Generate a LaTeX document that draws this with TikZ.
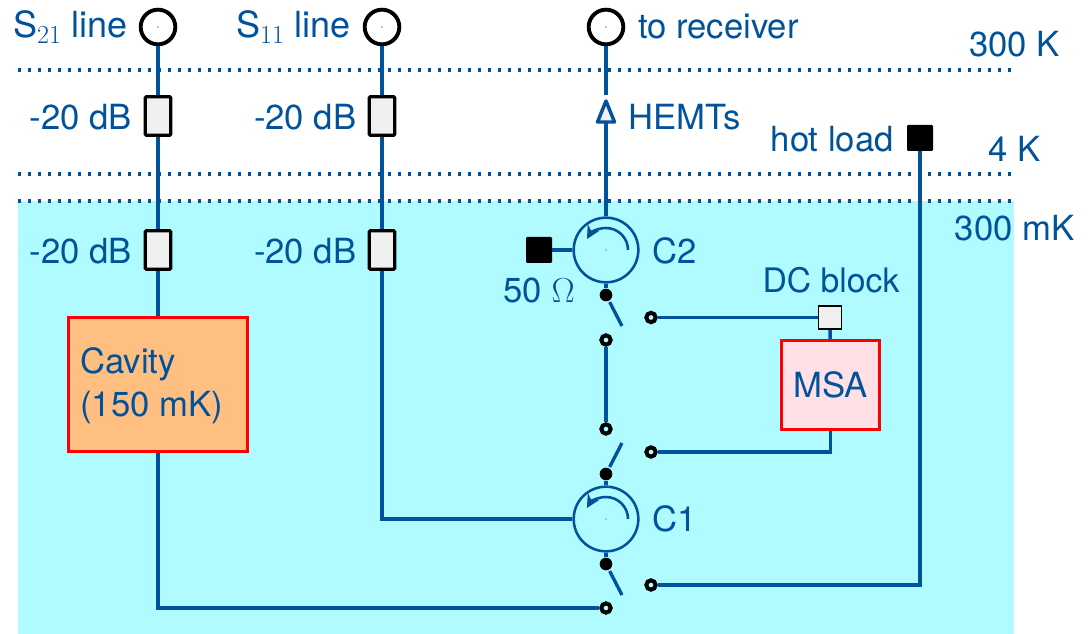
\documentclass[tikz,border=0pt]{standalone}
\usepackage{fix-cm}
\usepackage[no-math]{fontspec}
\usetikzlibrary{arrows.meta}
\setmainfont{TeX Gyre Heros}
\DeclareMathSizes{27}{27}{19.5}{14}
\definecolor{wireblue}{HTML}{00529B}
\definecolor{coldcyan}{HTML}{AFFBFF}
\definecolor{attgray}{HTML}{F0F0F0}
\definecolor{cavorange}{HTML}{FFBF80}
\definecolor{msapink}{HTML}{FFE0E6}
\begin{document}
\begin{tikzpicture}[x=0.75pt, y=-0.75pt,
  every node/.style={font=\fontsize{26}{32}\selectfont, text=wireblue, inner sep=0pt},
  portlabel/.style={font=\fontsize{27}{32}\selectfont, anchor=east},
  wire/.style={draw=wireblue, line width=2.5pt},
  stage/.style={draw=wireblue, line width=2.6pt, dash pattern=on 2.6pt off 4.9pt},
  port/.style={circle, draw=black, line width=2.9pt, minimum size=26pt},
  atten/.style={rectangle, draw=black, fill=attgray, line width=2.4pt, rounded corners=0.8pt, minimum width=19pt, minimum height=29pt},
  load/.style={rectangle, fill=black, rounded corners=0.8pt, minimum size=19.5pt},
  circu/.style={circle, draw=wireblue, line width=1.9pt, minimum size=48.5pt},
  turn/.style={wireblue, line width=1.9pt, -{Stealth[length=10pt, width=10pt]}},
  pivot/.style={circle, fill=black, minimum size=9.5pt},
  contact/.style={circle, draw=black, fill=coldcyan, line width=3pt, minimum size=7pt},
  box/.style={rectangle, draw=red, line width=2.3pt}]
\useasboundingbox (0,0) rectangle (1088,634);
\fill [coldcyan] (18,201) rectangle (1014,634);
\draw [stage] (18,70) -- (1012,70);
\draw [stage] (18,174) -- (1012,174);
\draw [stage] (18,201) -- (1012,201);
% nodes
\node (S21) at (158,27) [port] {};
\node (S11) at (382,27) [port] {};
\node (Rx) at (606,27) [port] {};
\node (A1) at (158,116) [atten] {};
\node (A2) at (158,250) [atten] {};
\node (A3) at (382,116) [atten] {};
\node (A4) at (382,250) [atten] {};
\node (Cav) at (158,384.5) [box, fill=cavorange, minimum width=134pt, minimum height=101pt] {};
\node (MSA) at (830.5,385) [box, fill=msapink, minimum width=73pt, minimum height=67pt] {MSA};
\node (DC) at (830,317.5) [rectangle, draw=black, fill=attgray, line width=1.2pt, minimum size=17.5pt] {};
\node (Hot) at (920,138) [load] {};
\node (Term) at (539,250) [load] {};
\node (C2) at (606,250) [circu] {};
\node (C1) at (606,519) [circu] {};
\node (P2) at (606,295) [pivot] {};
\node (P1a) at (606,474) [pivot] {};
\node (P1b) at (606,564) [pivot] {};
\node (T2a) at (651,317.5) [contact] {};
\node (T2b) at (606,340) [contact] {};
\node (T1a) at (606,429) [contact] {};
\node (T1b) at (651,452) [contact] {};
\node (T3a) at (651,585) [contact] {};
\node (T3b) at (606,608) [contact] {};
\coordinate (Arm2) at (622,326);
\coordinate (Arm1a) at (622,443);
\coordinate (Arm1b) at (622,595);
\coordinate (HotC) at (920,585);
\coordinate (MSAc) at (830.5,452);
\coordinate (S11c) at (382,519);
\coordinate (S21c) at (158,608);
\coordinate (HT) at (606,101);
\coordinate (HL) at (597.5,122);
\coordinate (HR) at (614.5,122);
\coordinate (HB) at (606,122);
\coordinate (HA) at (606,95);
% wires
\draw [wire] (S21) -- (A1);
\draw [wire] (A1) -- (A2);
\draw [wire] (A2) -- (Cav);
\draw [wire] (Cav) -- (S21c) -- (T3b);
\draw [wire] (S11) -- (A3);
\draw [wire] (A3) -- (A4);
\draw [wire] (A4) -- (S11c) -- (C1);
\draw [wire] (Rx) -- (HA);
\draw [wire] (HB) -- (C2);
\draw [wire] (Term) -- (C2);
\draw [wire] (C2) -- (P2);
\draw [wire, shorten <=1pt] (P2) -- (Arm2);
\draw [wire] (T2a) -- (DC);
\draw [wire] (DC) -- (MSA);
\draw [wire] (T2b) -- (T1a);
\draw [wire, shorten <=1pt] (P1a) -- (Arm1a);
\draw [wire] (T1b) -- (MSAc) -- (MSA);
\draw [wire] (C1) -- (P1a);
\draw [wire] (C1) -- (P1b);
\draw [wire, shorten <=1pt] (P1b) -- (Arm1b);
\draw [wire] (T3a) -- (HotC) -- (Hot);
\draw [draw=wireblue, fill=attgray, line width=2.6pt, line join=round] (HT) -- (HL) -- (HR) -- cycle;
% circulator arrows
\draw [turn] (C2.center) ++(16.5pt,0pt) arc [start angle=0, end angle=150, radius=16.5pt];
\draw [turn] (C1.center) ++(16.5pt,0pt) arc [start angle=0, end angle=150, radius=16.5pt];
% centre marks
\fill [black] (S21.center) circle (0.4pt);
\fill [black] (S11.center) circle (0.4pt);
\fill [black] (Rx.center) circle (0.4pt);
\fill [wireblue] (C2.center) circle (0.5pt);
\fill [wireblue] (C1.center) circle (0.5pt);
% labels
\node (LS21) at (128,27) [portlabel] {S$_{21}$ line};
\node (LS11) at (351,27) [portlabel] {S$_{11}$ line};
\node (LRx) at (638,27) [anchor=west] {to receiver};
\node (LA1) at (132,117) [anchor=east] {-20 dB};
\node (LA2) at (132,251) [anchor=east] {-20 dB};
\node (LA3) at (356.5,117) [anchor=east] {-20 dB};
\node (LA4) at (356.5,251) [anchor=east] {-20 dB};
\node (LH) at (628,117) [anchor=west] {HEMTs};
\node (LHot) at (894,139) [anchor=east] {hot load};
\node (L300) at (1060,44) [anchor=east] {300 K};
\node (L4) at (1041,149) [anchor=east] {4 K};
\node (L300m) at (1074.5,228) [anchor=east] {300 mK};
\node (LT) at (539,290) {50 $\Omega$};
\node (LC2) at (652,251) [anchor=west] {C2};
\node (LC1) at (652,519) [anchor=west] {C1};
\node (LDC) at (831,280) [font=\fontsize{25.3}{30}\selectfont] {DC block};
\node (LCav) at (80,386) [anchor=west, align=left] {Cavity\\(150 mK)};
\end{tikzpicture}
\end{document}
